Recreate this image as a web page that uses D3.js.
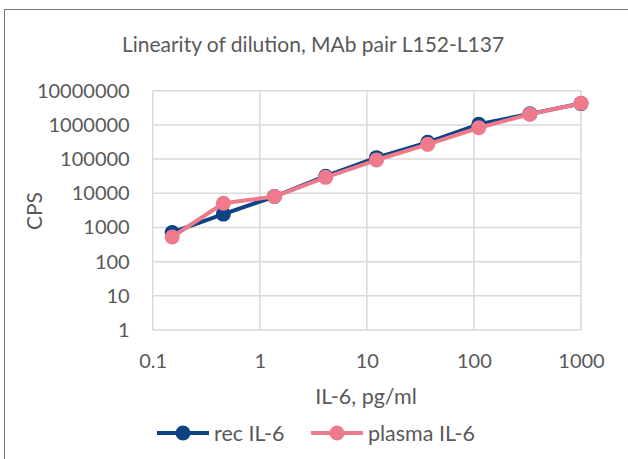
<!DOCTYPE html>
<html>
<head>
<meta charset="utf-8">
<script src="https://cdn.jsdelivr.net/npm/d3@7"></script>
<style>
  body { margin: 0; background: #fff; }
  text { font-family: Lato, "Open Sans", sans-serif; fill: #595959; }
</style>
</head>
<body>
<div id="chart"></div>
<script>
// dilution series, pg/ml
var concentrations = [0.152, 0.457, 1.37, 4.12, 12.3, 37, 111, 333, 1000];
var recIL6 = [714, 2460, 8000, 31500, 110000, 309000, 1040000, 2100000, 4200000];
var plasmaIL6 = [525, 5100, 8000, 29200, 93800, 270000, 826000, 2040000, 4270000];
var xTicks = [0.1, 1, 10, 100, 1000];
var yTicks = [1, 10, 100, 1000, 10000, 100000, 1000000, 10000000];
var seriesNames = ["rec IL-6", "plasma IL-6"];
var seriesColors = ["#0c4383", "#ee7a8b"];

var width = 628, height = 459;
var margin = {top: 90.7, right: 47, bottom: 129, left: 152.7};

var svg = d3.select("#chart").append("svg")
    .attr("width", width)
    .attr("height", height);

// chart frame (only top/left edges are in view)
svg.append("rect")
    .attr("x", 4.5).attr("y", 9.5)
    .attr("width", 700).attr("height", 600)
    .attr("fill", "none")
    .attr("stroke", "#767676")
    .attr("stroke-width", 1);

var x = d3.scaleLog().domain([0.1, 1000]).range([margin.left, width - margin.right]);
var y = d3.scaleLog().domain([1, 10000000]).range([height - margin.bottom, margin.top]);

//gridlines
svg.append("g").selectAll("line.v")
    .data(xTicks).enter().append("line")
    .attr("x1", function(d){ return x(d); })
    .attr("x2", function(d){ return x(d); })
    .attr("y1", y(1)).attr("y2", y(10000000))
    .attr("stroke", "#d9d9d9").attr("stroke-width", 1.5);

svg.append("g").selectAll("line.h")
    .data(yTicks).enter().append("line")
    .attr("x1", x(0.1)).attr("x2", x(1000))
    .attr("y1", function(d){ return y(d); })
    .attr("y2", function(d){ return y(d); })
    .attr("stroke", "#d9d9d9").attr("stroke-width", 1.5);

//axes
var xAxis = d3.axisBottom(x).tickValues(xTicks).tickFormat(d3.format("")).tickSize(0).tickPadding(24);
var gx = svg.append("g")
    .attr("transform", "translate(0," + y(1) + ")")
    .call(xAxis);
gx.select(".domain").remove();
gx.selectAll("text").attr("font-size", 20).style("font-family", "Lato");

var yAxis = d3.axisLeft(y).tickValues(yTicks).tickFormat(d3.format("")).tickSize(0).tickPadding(23);
var gy = svg.append("g")
    .attr("transform", "translate(" + x(0.1) + ",0)")
    .call(yAxis);
gy.select(".domain").remove();
gy.selectAll("text").attr("font-size", 20).style("font-family", "Lato");

//title and axis labels
svg.append("text")
    .attr("x", 313).attr("y", 52)
    .attr("text-anchor", "middle")
    .attr("font-size", 21)
    .text("Linearity of dilution, MAb pair L152-L137");

svg.append("text")
    .attr("x", 366).attr("y", 404)
    .attr("text-anchor", "middle")
    .attr("font-size", 21.5)
    .text("IL-6, pg/ml");

svg.append("text")
    .attr("transform", "translate(42,211) rotate(-90)")
    .attr("text-anchor", "middle")
    .attr("font-size", 21)
    .text("CPS");

//series
var line = d3.line()
    .x(function(d){ return x(d[0]); })
    .y(function(d){ return y(d[1]); });

[recIL6, plasmaIL6].forEach(function(vals, i){
    var pts = concentrations.map(function(c, j){ return [c, vals[j]]; });
    var g = svg.append("g");
    g.append("path")
        .datum(pts)
        .attr("d", line)
        .attr("fill", "none")
        .attr("stroke", seriesColors[i])
        .attr("stroke-width", 4)
        .attr("stroke-linejoin", "round");
    g.selectAll("circle")
        .data(pts).enter().append("circle")
        .attr("cx", function(d){ return x(d[0]); })
        .attr("cy", function(d){ return y(d[1]); })
        .attr("r", 7.5)
        .attr("fill", seriesColors[i]);
});

//legend
var legendX = [157, 311];
seriesNames.forEach(function(name, i){
    var lg = svg.append("g").attr("transform", "translate(" + legendX[i] + ",433)");
    lg.append("line")
        .attr("x1", 0).attr("x2", 52)
        .attr("stroke", seriesColors[i]).attr("stroke-width", 4);
    lg.append("circle")
        .attr("cx", 26).attr("cy", 0).attr("r", 7.5)
        .attr("fill", seriesColors[i]);
    lg.append("text")
        .attr("x", 57).attr("y", 7.5)
        .attr("font-size", 21.5)
        .text(name);
});
</script>
</body>
</html>
